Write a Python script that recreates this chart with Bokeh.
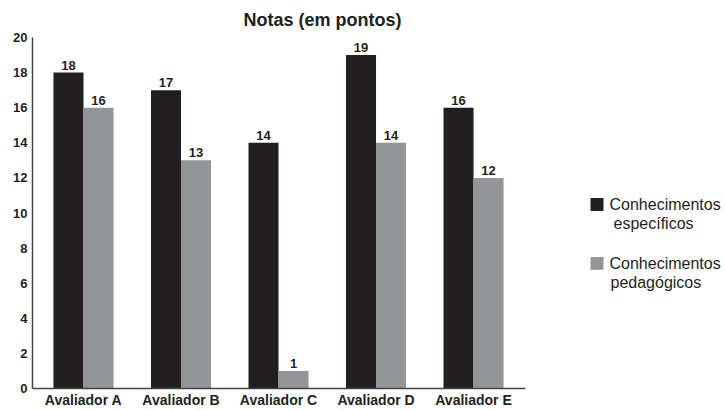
from bokeh.plotting import figure
from bokeh.layouts import row
from bokeh.models import Range1d, FixedTicker, ColumnDataSource
from bokeh.core.properties import value
from bokeh.embed import file_html
from bokeh.resources import INLINE

# ---- data ----
categories = ["Avaliador A", "Avaliador B", "Avaliador C", "Avaliador D", "Avaliador E"]
especificos = [18, 17, 14, 19, 16]
pedagogicos = [16, 13, 1, 14, 12]
legend_lines = [["Conhecimentos", "específicos"], ["Conhecimentos", "pedagógicos"]]
y_ticks = list(range(0, 21, 2))
title_text = "Notas (em pontos)"

BLACK = "#231f20"
GRAY = "#939598"
FONT = value("Liberation Sans")

idx = list(range(len(categories)))
bw = 0.308
x_esp = [i - bw / 2 for i in idx]
x_ped = [i + bw / 2 for i in idx]

p = figure(width=568, height=410, x_range=Range1d(-0.523, 4.533), y_range=Range1d(0, 20),
           output_backend="svg", toolbar_location=None,
           min_border_left=32, min_border_right=43, min_border_top=37, min_border_bottom=21)

src1 = ColumnDataSource(dict(x=x_esp, top=especificos, lab=[str(v) for v in especificos]))
src2 = ColumnDataSource(dict(x=x_ped, top=pedagogicos, lab=[str(v) for v in pedagogicos]))

p.vbar(x="x", top="top", bottom=0, width=bw, source=src1, fill_color=BLACK, line_color=None)
p.vbar(x="x", top="top", bottom=0, width=bw, source=src2, fill_color=GRAY, line_color=None)

for src in (src1, src2):
    p.text(x="x", y="top", text="lab", source=src, text_align="center", text_baseline="bottom",
           y_offset=-3, text_font=FONT, text_font_style="bold", text_font_size="13px",
           text_color=BLACK)

p.title.text = title_text
p.title.align = "left"
p.title.offset = 211
p.title.text_font = "Liberation Sans"
p.title.text_font_size = "18px"
p.title.text_font_style = "bold"
p.title.text_color = BLACK
p.title.vertical_align = "middle"
p.title.standoff = 14

p.xgrid.visible = False
p.ygrid.visible = False
p.outline_line_color = None

p.yaxis.ticker = FixedTicker(ticks=y_ticks)
p.yaxis.major_tick_line_color = None
p.yaxis.major_tick_out = 0
p.yaxis.major_tick_in = 0
p.yaxis.minor_tick_line_color = None
p.yaxis.major_label_text_font = "Liberation Sans"
p.yaxis.major_label_text_font_style = "bold"
p.yaxis.major_label_text_font_size = "13px"
p.yaxis.major_label_text_color = BLACK
p.yaxis.major_label_standoff = 5
p.yaxis.axis_line_color = "#444444"
p.yaxis.axis_line_width = 1.5

p.xaxis.ticker = FixedTicker(ticks=idx)
p.xaxis.major_label_overrides = {i: c for i, c in zip(idx, categories)}
p.xaxis.major_tick_line_color = None
p.xaxis.major_tick_out = 0
p.xaxis.major_tick_in = 0
p.xaxis.minor_tick_line_color = None
p.xaxis.major_label_text_font = "Liberation Sans"
p.xaxis.major_label_text_font_style = "bold"
p.xaxis.major_label_text_font_size = "14px"
p.xaxis.major_label_text_color = BLACK
p.xaxis.major_label_standoff = 3
p.xaxis.axis_line_color = "#444444"
p.xaxis.axis_line_width = 1.5

# ---- legend panel (frame is aligned with the main frame: page y 37..389) ----
lg = figure(width=157, height=410, x_range=Range1d(0, 157), y_range=Range1d(389, 37),
            output_backend="svg", toolbar_location=None,
            min_border=0, min_border_left=0, min_border_right=0, min_border_top=37, min_border_bottom=21)
lg.axis.visible = False
lg.grid.visible = False
lg.outline_line_color = None

sq_y = [204.5, 263.5]
colors = [BLACK, GRAY]
lg.rect(x=[28.5, 28.5], y=sq_y, width=13, height=13, fill_color=colors, line_color=None)
line_x = [[41, 45], [41, 42]]
tx, ty, tt = [], [], []
for k, lines in enumerate(legend_lines):
    for j, t in enumerate(lines):
        tx.append(line_x[k][j])
        ty.append(sq_y[k] + 19 * j)
        tt.append(t)
lg.text(x=tx, y=ty, text=tt, text_align="left", text_baseline="middle",
        text_font=FONT, text_font_size="16px", text_color=BLACK)

layout = row(p, lg)
open("out.html", "w").write(file_html(layout, INLINE))
